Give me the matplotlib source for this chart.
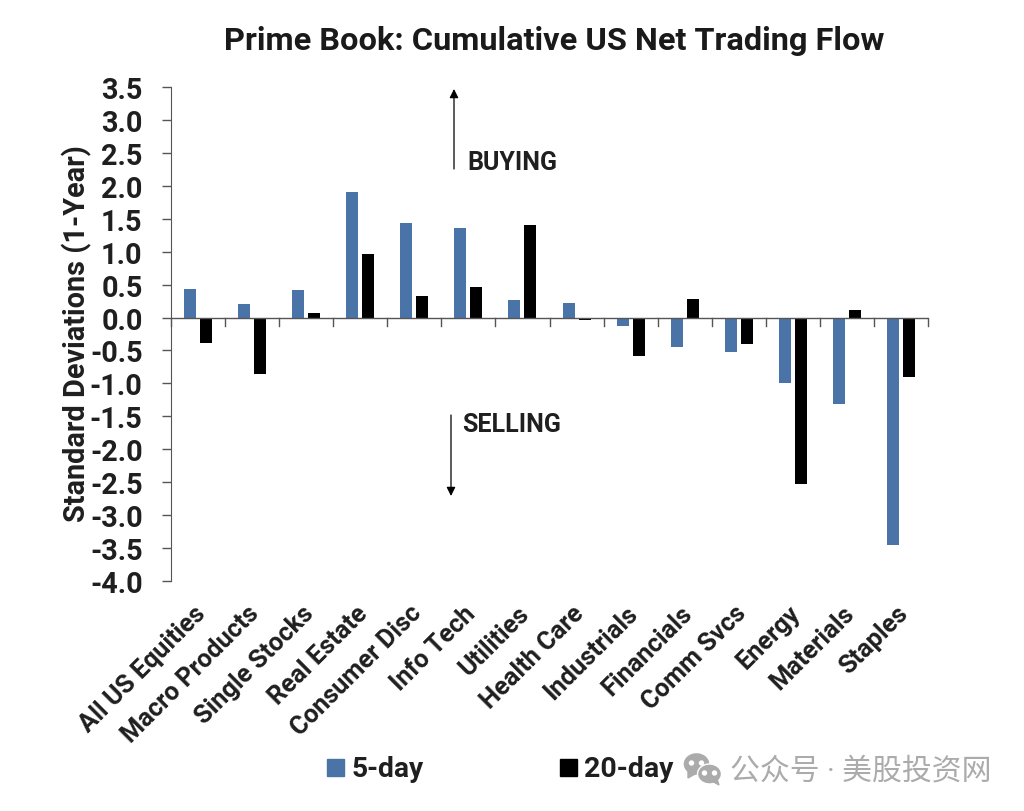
import matplotlib
matplotlib.use('Agg')
import matplotlib.pyplot as plt
import matplotlib.transforms as mtrans
import numpy as np
from matplotlib.patches import Rectangle, Ellipse, Polygon

plt.rcParams['font.family'] = ['Roboto', 'Noto Sans CJK SC', 'DejaVu Sans']

categories = ['All US Equities', 'Macro Products', 'Single Stocks', 'Real Estate', 'Consumer Disc',
              'Info Tech', 'Utilities', 'Health Care', 'Industrials', 'Financials', 'Comm Svcs',
              'Energy', 'Materials', 'Staples']
day5 = [0.44, 0.20, 0.42, 1.90, 1.43, 1.36, 0.27, 0.22, -0.13, -0.45, -0.52, -1.00, -1.32, -3.46]
day20 = [-0.38, -0.85, 0.07, 0.96, 0.33, 0.47, 1.41, -0.04, -0.58, 0.28, -0.40, -2.52, 0.12, -0.90]
yticks = np.arange(-4.0, 3.51, 0.5)

BLUE = '#4a74a8'
TEXT = '#1f1f1f'
AXIS = '#555555'

fig = plt.figure(figsize=(10.24, 8.12), dpi=100)
ax = fig.add_axes([171/1024, 1-582/812, (928-171)/1024, (582-88)/812])

x = np.arange(len(categories))
w = 0.222
ax.bar(x - 0.148, day5, w, color=BLUE, label='5-day')
ax.bar(x + 0.148, day20, w, color='#000000', label='20-day')

ax.set_xlim(-0.5, len(categories) - 0.5)
ax.set_ylim(-4.0, 3.5)
ax.set_yticks(yticks)
ax.set_yticklabels(['%.1f' % v for v in yticks], fontsize=20.8, fontweight='bold', color=TEXT)
ax.tick_params(axis='y', length=6.5, width=1, color=AXIS, pad=14)

for s in ['top', 'right', 'bottom']:
    ax.spines[s].set_visible(False)
ax.spines['left'].set_color(AXIS)

# category axis sits at zero, labels stay below the plot
ax.axhline(0, color=AXIS, lw=1)
ax.set_xticks(x)
ax.set_xticklabels(categories, rotation=45, ha='right', rotation_mode='anchor',
                   fontsize=18.3, fontweight='semibold', color=TEXT)
ax.tick_params(axis='x', which='major', length=0, pad=14)
shift = mtrans.ScaledTranslation(-5/100, 0, fig.dpi_scale_trans)
for lab in ax.get_xticklabels():
    lab.set_transform(lab.get_transform() + shift)
for tx in np.arange(-0.5, len(categories)):
    ax.plot([tx, tx], [0, -0.13], color=AXIS, lw=1, clip_on=False)

fig.text(77/1024, 1-334/812, 'Standard Deviations (1-Year)', rotation=90, ha='center', va='center',
         fontsize=20.8, fontweight='semibold', color=TEXT)
fig.text(554/1024, 1-41/812, 'Prime Book: Cumulative US Net Trading Flow', ha='center', va='center',
         fontsize=23.4, fontweight='bold', color='#1a1a1a')

fig.text(467/1024, 1-163.5/812, 'BUYING', ha='left', va='center', fontsize=18, fontweight='semibold', color=TEXT)
fig.text(462/1024, 1-425.5/812, 'SELLING', ha='left', va='center', fontsize=18, fontweight='semibold', color=TEXT)
ax.annotate('', xy=(454/1024, 1-90/812), xytext=(454/1024, 1-170/812), xycoords='figure fraction',
            arrowprops=dict(arrowstyle='-|>', color='black', lw=0.9, mutation_scale=13, shrinkA=0, shrinkB=0))
ax.annotate('', xy=(451/1024, 1-497/812), xytext=(451/1024, 1-416/812), xycoords='figure fraction',
            arrowprops=dict(arrowstyle='-|>', color='black', lw=0.9, mutation_scale=13, shrinkA=0, shrinkB=0))

# legend drawn by hand to keep the wide gap between the two entries
fig.patches.append(Rectangle((327/1024, 1-777/812), 17/1024, 17/812, transform=fig.transFigure, color=BLUE))
fig.patches.append(Rectangle((560/1024, 1-777/812), 17/1024, 17/812, transform=fig.transFigure, color='#000000'))
fig.text(352/1024, 1-770/812, '5-day', ha='left', va='center', fontsize=20.3, fontweight='bold', color=TEXT)
fig.text(584/1024, 1-770/812, '20-day', ha='left', va='center', fontsize=20.5, fontweight='bold', color=TEXT)

# watermark: wechat bubbles and account name
def px(xp, yp):
    return (xp/1024, 1-yp/812)

GREY = '#ababab'
def bubble(cx, cy, bw, bh, tail, eye_dx):
    fig.patches.append(Ellipse(px(cx, cy), bw/1024, bh/812, transform=fig.transFigure, color=GREY, ec='white', lw=1, zorder=5))
    fig.patches.append(Polygon([px(*p) for p in tail], transform=fig.transFigure, color=GREY, zorder=5))
    for d in (-eye_dx, eye_dx):
        fig.patches.append(Ellipse(px(cx + d, cy - 1), 4/1024, 4/812, transform=fig.transFigure, color='white', zorder=6))

bubble(696.5, 765, 27, 23, [(688, 772), (688, 779), (695, 775)], 5)
bubble(709.5, 775, 24, 20, [(712, 782), (719, 786), (717, 780)], 5)
fig.text(730/1024, 1-772/812, '公众号 · 美股投资网', ha='left', va='center', fontsize=21.5, color=GREY)

fig.savefig('out.png', dpi=100)
